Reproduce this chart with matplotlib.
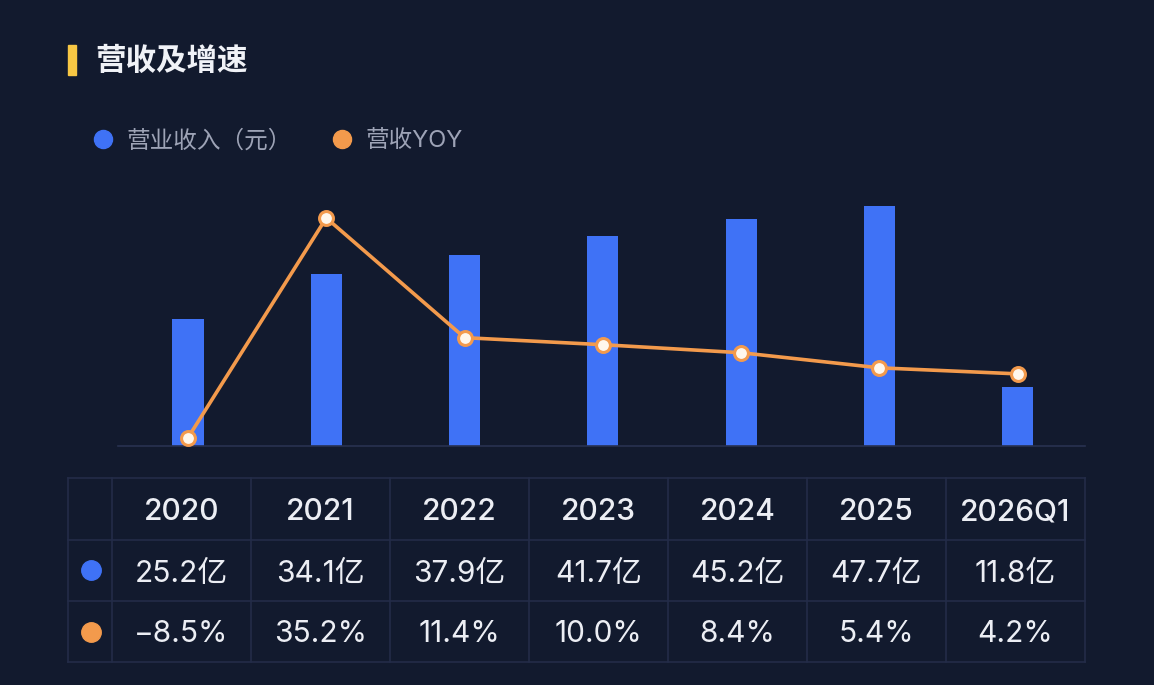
import matplotlib
matplotlib.use('Agg')
import matplotlib.pyplot as plt
from matplotlib.lines import Line2D
from matplotlib.patches import Rectangle
import numpy as np

plt.rcParams['font.family'] = ['Inter', 'Noto Sans CJK SC', 'DejaVu Sans']
cjk = ['Noto Sans CJK SC', 'DejaVu Sans']

# data
periods = ['2020', '2021', '2022', '2023', '2024', '2025', '2026Q1']
revenue = [25.2, 34.1, 37.9, 41.7, 45.2, 47.7, 11.8]      # 亿元
yoy = [-8.5, 35.2, 11.4, 10.0, 8.4, 5.4, 4.2]              # %
revenue_labels = ['25.2亿', '34.1亿', '37.9亿', '41.7亿', '45.2亿', '47.7亿', '11.8亿']
yoy_labels = ['\u22128.5%', '35.2%', '11.4%', '10.0%', '8.4%', '5.4%', '4.2%']

bg = '#121a2e'
blue = '#3f72f6'
orange = '#f39a4c'
yellow = '#f7c744'
grid_c = '#232c48'
W, H = 1154, 685

fig = plt.figure(figsize=(W / 100, H / 100), dpi=100)
fig.patch.set_facecolor(bg)

def fx(px):
    return px / W

def fy(py):
    return 1 - py / H

# title
fig.patches.append(Rectangle((fx(68), fy(75)), fx(8), 30 / H, transform=fig.transFigure,
                             color=yellow, zorder=3))
fig.text(fx(95), fy(61), '营收及增速', color='#f0f2f7', fontsize=22, va='center', ha='left',
         family=cjk, weight='bold')

# legend
handles = [Line2D([], [], marker='o', ls='', color=blue, markersize=13),
           Line2D([], [], marker='o', ls='', color=orange, markersize=13)]
leg = fig.legend(handles, ['营业收入（元）', '营收YOY'], ncol=2, frameon=False,
                 loc='center left', bbox_to_anchor=(fx(70), fy(141)),
                 fontsize=17, labelcolor='#9da3b6', handletextpad=0.5,
                 columnspacing=1.6, handlelength=1.0)

# chart
ax = fig.add_axes([fx(118), fy(446), fx(1085) - fx(118), 256 / H])
ax.set_facecolor('none')
x = np.arange(len(periods))
ax.bar(x, revenue, width=0.225, color=blue, zorder=2)
ax.set_xlim(-0.506, 6.486)
ax.set_ylim(0, 256 / 5.03)
for s in ['top', 'right', 'left']:
    ax.spines[s].set_visible(False)
ax.spines['bottom'].set_color('#283150')
ax.spines['bottom'].set_linewidth(1.2)
ax.set_xticks([])
ax.set_yticks([])

ax2 = ax.twinx()
ax2.plot(x, yoy, color=orange, lw=2.6, marker='o', markersize=10,
         markerfacecolor='#fff7ec', markeredgecolor=orange, markeredgewidth=2.2, zorder=3)
ax2.set_ylim(-51 / 5.03, (395 - 190) / 5.03)
ax2.set_axis_off()

# table
tx0, tx1, ty0, ty1 = 68, 1085, 478, 662
col_edges = [68, 112] + [112 + 139 * (i + 1) for i in range(7)]
col_edges[-1] = 1085
row_edges = [478, 540, 601, 662]
tab = fig.add_axes([0, 0, 1, 1])
tab.set_xlim(0, W)
tab.set_ylim(H, 0)
tab.set_axis_off()
tab.patch.set_alpha(0)
for cx in col_edges:
    tab.plot([cx, cx], [ty0, ty1], color=grid_c, lw=1.2)
for ry in row_edges:
    tab.plot([tx0, tx1], [ry, ry], color=grid_c, lw=1.2)

centers = [(col_edges[i] + col_edges[i + 1]) / 2 for i in range(1, 8)]
row_c = [(row_edges[i] + row_edges[i + 1]) / 2 for i in range(3)]
for cx, p, r, g in zip(centers, periods, revenue_labels, yoy_labels):
    tab.text(cx, row_c[0] + 3, p, color='#eceef4', fontsize=21.5, ha='center', va='center',
             weight='medium')
    tab.text(cx, row_c[1] + 3, r, color='#eceef4', fontsize=21.5, ha='center', va='center')
    tab.text(cx, row_c[2] + 3, g, color='#eceef4', fontsize=21.5, ha='center', va='center')
tab.plot([91], [570], 'o', color=blue, markersize=14)
tab.plot([91], [632], 'o', color=orange, markersize=14)

fig.savefig('out.png', dpi=100, facecolor=bg)
